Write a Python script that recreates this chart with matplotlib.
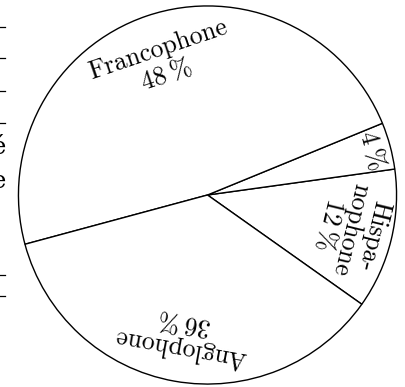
import numpy as np
import matplotlib
matplotlib.use("Agg")
import matplotlib.pyplot as plt
from matplotlib.lines import Line2D

# share of each language group, counter-clockwise from the first wedge
groups = ["Hispanophone", "Autre", "Francophone", "Anglophone"]
shares = [12, 4, 48, 36]
labels = ["Hispa-\nnophone\n12\u2009%", "4\u2009%",
          "Francophone\n48\u2009%", "Anglophone\n36\u2009%"]
label_radius = [0.78, 0.9, 0.74, 0.75]
label_spacing = [0.95, 1.0, 1.15, 1.15]
start_angle = -35.3

# clipped bits of the neighbouring column on the left edge
edge_rules_y = [27, 58, 91, 123, 275, 296]
edge_letters = ["é", "e"]
edge_letters_y = [148, 181]

W, H = 405, 387
fig = plt.figure(figsize=(W / 100, H / 100), dpi=100)
cx, cy, R = 207.5, 195, 190
ax = fig.add_axes([(cx - R) / W, (H - cy - R) / H, 2 * R / W, 2 * R / H])

wedges, _ = ax.pie(shares, startangle=start_angle, counterclock=True, radius=1,
                   colors=["white"] * len(shares),
                   wedgeprops=dict(edgecolor="black", linewidth=1.0))
ax.set_xlim(-1.005, 1.005)
ax.set_ylim(-1.005, 1.005)
ax.set_aspect("equal")
ax.axis("off")

serif = ["cmr10", "DejaVu Serif"]
cum = np.cumsum([0] + shares) / sum(shares) * 360
for i, lab in enumerate(labels):
    mid = start_angle + (cum[i] + cum[i + 1]) / 2
    r = label_radius[i]
    x, y = r * np.cos(np.radians(mid)), r * np.sin(np.radians(mid))
    ax.text(x, y, lab, rotation=mid - 90, rotation_mode="anchor",
            ha="center", va="center", multialignment="center",
            fontsize=18.5, family=serif, linespacing=label_spacing[i])

for yy in edge_rules_y:
    fig.add_artist(Line2D([0, 5 / W], [1 - yy / H, 1 - yy / H],
                          color="black", linewidth=0.9))
for ch, yy in zip(edge_letters, edge_letters_y):
    fig.text(6 / W, 1 - yy / H, ch, ha="right", va="center",
             fontsize=17.5, family=["DejaVu Serif"])

fig.savefig("out.png", dpi=100)
